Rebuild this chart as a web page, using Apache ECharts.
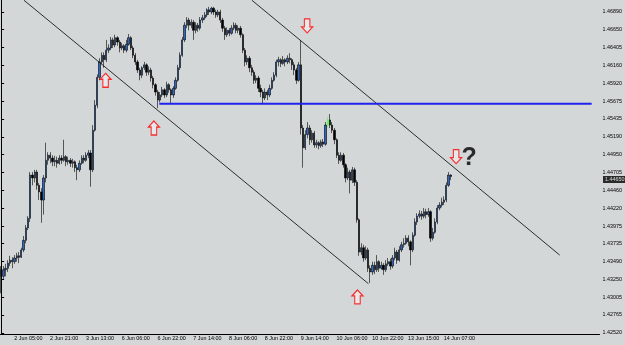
<!DOCTYPE html>
<html>
<head>
<meta charset="utf-8">
<title>H1 channel</title>
<script src="https://cdn.jsdelivr.net/npm/echarts@6/dist/echarts.min.js"></script>
<style>
  html, body { margin: 0; padding: 0; background: #d3d7d8; }
  #chart { width: 625px; height: 345px; }
</style>
</head>
<body>
<div id="chart"></div>
<script>
// right price scale labels
const yLabels = ['1.46890', '1.46650', '1.46405', '1.46160', '1.45920', '1.45675', '1.45435',
  '1.45190', '1.44950', '1.44705', '1.44460', '1.44220', '1.43975', '1.43735', '1.43490',
  '1.43250', '1.43005', '1.42765', '1.42520'];

// time labels, one every 16 bars starting at bar 5
const xLabels = ['2 Jun 05:00', '2 Jun 21:00', '3 Jun 13:00', '6 Jun 06:00', '6 Jun 22:00',
  '7 Jun 14:00', '8 Jun 06:00', '8 Jun 22:00', '9 Jun 14:00', '10 Jun 06:00', '10 Jun 22:00',
  '13 Jun 15:00', '14 Jun 07:00'];
const firstLabelBar = 5;
const labelStep = 16;
const slotCount = 268;   // visible bar slots incl. empty space on the right

// hourly bars: [open, close, low, high]
const candles = [
  [1.4338, 1.4329, 1.4306, 1.4343], [1.4329, 1.4338, 1.4324, 1.4343], [1.4338, 1.4340, 1.4329, 1.4346],
  [1.4340, 1.4347, 1.4335, 1.4351], [1.4347, 1.4351, 1.4343, 1.4357], [1.4351, 1.4349, 1.4340, 1.4355],
  [1.4349, 1.4354, 1.4346, 1.4358], [1.4354, 1.4357, 1.4349, 1.4361], [1.4357, 1.4355, 1.4347, 1.4362],
  [1.4355, 1.4365, 1.4354, 1.4368], [1.4365, 1.4378, 1.4362, 1.4384], [1.4378, 1.4395, 1.4374, 1.4399],
  [1.4395, 1.4408, 1.4392, 1.4411], [1.4408, 1.4467, 1.4403, 1.4471], [1.4467, 1.4463, 1.4453, 1.4471],
  [1.4463, 1.4471, 1.4457, 1.4474], [1.4471, 1.4453, 1.4447, 1.4474], [1.4453, 1.4444, 1.4433, 1.4456],
  [1.4444, 1.4433, 1.4402, 1.4449], [1.4433, 1.4463, 1.4413, 1.4467], [1.4463, 1.4487, 1.4457, 1.4511],
  [1.4487, 1.4494, 1.4481, 1.4498], [1.4494, 1.4490, 1.4483, 1.4498], [1.4490, 1.4485, 1.4479, 1.4494],
  [1.4485, 1.4487, 1.4479, 1.4493], [1.4487, 1.4483, 1.4477, 1.4492], [1.4483, 1.4490, 1.4481, 1.4494],
  [1.4490, 1.4487, 1.4482, 1.4494], [1.4487, 1.4492, 1.4485, 1.4515], [1.4492, 1.4485, 1.4479, 1.4494],
  [1.4485, 1.4487, 1.4481, 1.4492], [1.4487, 1.4483, 1.4478, 1.4490], [1.4483, 1.4485, 1.4477, 1.4489],
  [1.4485, 1.4477, 1.4471, 1.4487], [1.4477, 1.4474, 1.4460, 1.4481], [1.4474, 1.4483, 1.4471, 1.4487],
  [1.4483, 1.4490, 1.4481, 1.4494], [1.4490, 1.4487, 1.4483, 1.4494], [1.4487, 1.4494, 1.4485, 1.4498],
  [1.4494, 1.4497, 1.4490, 1.4501], [1.4497, 1.4474, 1.4451, 1.4501], [1.4474, 1.4528, 1.4471, 1.4535],
  [1.4528, 1.4562, 1.4526, 1.4569], [1.4562, 1.4600, 1.4558, 1.4604], [1.4600, 1.4621, 1.4596, 1.4626],
  [1.4621, 1.4630, 1.4618, 1.4634], [1.4630, 1.4624, 1.4613, 1.4634], [1.4624, 1.4637, 1.4621, 1.4651],
  [1.4637, 1.4640, 1.4633, 1.4645], [1.4640, 1.4651, 1.4637, 1.4655], [1.4651, 1.4644, 1.4640, 1.4654],
  [1.4644, 1.4654, 1.4641, 1.4658], [1.4654, 1.4648, 1.4643, 1.4656], [1.4648, 1.4640, 1.4634, 1.4651],
  [1.4640, 1.4643, 1.4637, 1.4647], [1.4643, 1.4637, 1.4633, 1.4645], [1.4637, 1.4645, 1.4634, 1.4651],
  [1.4645, 1.4654, 1.4643, 1.4659], [1.4654, 1.4640, 1.4637, 1.4656], [1.4640, 1.4630, 1.4626, 1.4643],
  [1.4630, 1.4621, 1.4617, 1.4633], [1.4621, 1.4610, 1.4606, 1.4624], [1.4610, 1.4603, 1.4596, 1.4613],
  [1.4603, 1.4613, 1.4599, 1.4615], [1.4613, 1.4617, 1.4610, 1.4621], [1.4617, 1.4607, 1.4602, 1.4619],
  [1.4607, 1.4610, 1.4603, 1.4615], [1.4610, 1.4599, 1.4594, 1.4613], [1.4599, 1.4590, 1.4585, 1.4602],
  [1.4590, 1.4580, 1.4575, 1.4592], [1.4580, 1.4569, 1.4558, 1.4583], [1.4569, 1.4576, 1.4566, 1.4580],
  [1.4576, 1.4583, 1.4573, 1.4587], [1.4583, 1.4576, 1.4572, 1.4585], [1.4576, 1.4590, 1.4573, 1.4594],
  [1.4590, 1.4583, 1.4579, 1.4592], [1.4583, 1.4576, 1.4565, 1.4585], [1.4576, 1.4585, 1.4572, 1.4588],
  [1.4585, 1.4596, 1.4583, 1.4600], [1.4596, 1.4613, 1.4594, 1.4617], [1.4613, 1.4630, 1.4610, 1.4634],
  [1.4630, 1.4651, 1.4628, 1.4655], [1.4651, 1.4671, 1.4648, 1.4675], [1.4671, 1.4678, 1.4667, 1.4682],
  [1.4678, 1.4671, 1.4664, 1.4681], [1.4671, 1.4675, 1.4667, 1.4679], [1.4675, 1.4664, 1.4651, 1.4678],
  [1.4664, 1.4671, 1.4660, 1.4675], [1.4671, 1.4667, 1.4662, 1.4674], [1.4667, 1.4678, 1.4664, 1.4682],
  [1.4678, 1.4681, 1.4674, 1.4685], [1.4681, 1.4685, 1.4678, 1.4689], [1.4685, 1.4692, 1.4682, 1.4694],
  [1.4692, 1.4689, 1.4685, 1.4696], [1.4689, 1.4694, 1.4686, 1.4696], [1.4694, 1.4689, 1.4685, 1.4696],
  [1.4689, 1.4685, 1.4681, 1.4692], [1.4685, 1.4689, 1.4682, 1.4692], [1.4689, 1.4678, 1.4674, 1.4692],
  [1.4678, 1.4667, 1.4662, 1.4681], [1.4667, 1.4658, 1.4651, 1.4670], [1.4658, 1.4664, 1.4655, 1.4668],
  [1.4664, 1.4660, 1.4656, 1.4667], [1.4660, 1.4667, 1.4658, 1.4671], [1.4667, 1.4671, 1.4664, 1.4675],
  [1.4671, 1.4664, 1.4660, 1.4674], [1.4664, 1.4667, 1.4660, 1.4671], [1.4667, 1.4658, 1.4654, 1.4670],
  [1.4658, 1.4637, 1.4633, 1.4660], [1.4637, 1.4621, 1.4615, 1.4640], [1.4621, 1.4626, 1.4617, 1.4630],
  [1.4626, 1.4613, 1.4607, 1.4629], [1.4613, 1.4607, 1.4602, 1.4617], [1.4607, 1.4596, 1.4591, 1.4610],
  [1.4596, 1.4599, 1.4592, 1.4603], [1.4599, 1.4585, 1.4580, 1.4602], [1.4585, 1.4580, 1.4573, 1.4590],
  [1.4580, 1.4572, 1.4565, 1.4583], [1.4572, 1.4580, 1.4569, 1.4585], [1.4580, 1.4576, 1.4569, 1.4583],
  [1.4576, 1.4585, 1.4573, 1.4590], [1.4585, 1.4596, 1.4583, 1.4600], [1.4596, 1.4603, 1.4594, 1.4607],
  [1.4603, 1.4621, 1.4600, 1.4624], [1.4621, 1.4624, 1.4615, 1.4628], [1.4624, 1.4619, 1.4614, 1.4626],
  [1.4619, 1.4624, 1.4617, 1.4629], [1.4624, 1.4621, 1.4615, 1.4626], [1.4621, 1.4626, 1.4618, 1.4630],
  [1.4626, 1.4624, 1.4619, 1.4633], [1.4624, 1.4617, 1.4610, 1.4626], [1.4617, 1.4610, 1.4603, 1.4621],
  [1.4610, 1.4596, 1.4591, 1.4613], [1.4596, 1.4617, 1.4594, 1.4621], [1.4617, 1.4531, 1.4522, 1.4651],
  [1.4531, 1.4504, 1.4477, 1.4535], [1.4504, 1.4522, 1.4501, 1.4528], [1.4522, 1.4531, 1.4517, 1.4539],
  [1.4531, 1.4515, 1.4508, 1.4535], [1.4515, 1.4524, 1.4511, 1.4528], [1.4524, 1.4508, 1.4504, 1.4527],
  [1.4508, 1.4511, 1.4504, 1.4515], [1.4511, 1.4507, 1.4502, 1.4513], [1.4507, 1.4512, 1.4504, 1.4515],
  [1.4512, 1.4509, 1.4505, 1.4516], [1.4509, 1.4535, 1.4507, 1.4539], [1.4535, 1.4542, 1.4532, 1.4546],
  [1.4542, 1.4535, 1.4531, 1.4550], [1.4535, 1.4528, 1.4524, 1.4539], [1.4528, 1.4515, 1.4509, 1.4531],
  [1.4515, 1.4494, 1.4490, 1.4517], [1.4494, 1.4487, 1.4482, 1.4498], [1.4487, 1.4494, 1.4485, 1.4498],
  [1.4494, 1.4481, 1.4477, 1.4497], [1.4481, 1.4463, 1.4457, 1.4483], [1.4463, 1.4471, 1.4460, 1.4477],
  [1.4471, 1.4460, 1.4442, 1.4474], [1.4460, 1.4474, 1.4456, 1.4478], [1.4474, 1.4457, 1.4452, 1.4477],
  [1.4457, 1.4406, 1.4402, 1.4460], [1.4406, 1.4362, 1.4357, 1.4408], [1.4362, 1.4368, 1.4358, 1.4374],
  [1.4368, 1.4354, 1.4349, 1.4372], [1.4354, 1.4365, 1.4351, 1.4370], [1.4365, 1.4340, 1.4335, 1.4368],
  [1.4340, 1.4335, 1.4320, 1.4344], [1.4335, 1.4344, 1.4331, 1.4349], [1.4344, 1.4338, 1.4332, 1.4349],
  [1.4338, 1.4349, 1.4335, 1.4358], [1.4349, 1.4340, 1.4335, 1.4351], [1.4340, 1.4344, 1.4338, 1.4349],
  [1.4344, 1.4338, 1.4331, 1.4347], [1.4338, 1.4346, 1.4335, 1.4351], [1.4346, 1.4349, 1.4343, 1.4354],
  [1.4349, 1.4343, 1.4338, 1.4353], [1.4343, 1.4354, 1.4340, 1.4358], [1.4354, 1.4362, 1.4351, 1.4368],
  [1.4362, 1.4351, 1.4346, 1.4365], [1.4351, 1.4365, 1.4349, 1.4370], [1.4365, 1.4372, 1.4362, 1.4376],
  [1.4372, 1.4374, 1.4368, 1.4381], [1.4374, 1.4381, 1.4372, 1.4385], [1.4381, 1.4376, 1.4370, 1.4385],
  [1.4376, 1.4365, 1.4344, 1.4378], [1.4365, 1.4385, 1.4362, 1.4389], [1.4385, 1.4403, 1.4383, 1.4408],
  [1.4403, 1.4411, 1.4399, 1.4415], [1.4411, 1.4414, 1.4408, 1.4419], [1.4414, 1.4411, 1.4406, 1.4418],
  [1.4411, 1.4417, 1.4408, 1.4422], [1.4417, 1.4413, 1.4408, 1.4421], [1.4413, 1.4417, 1.4410, 1.4422],
  [1.4417, 1.4381, 1.4376, 1.4419], [1.4381, 1.4389, 1.4378, 1.4395], [1.4389, 1.4403, 1.4387, 1.4408],
  [1.4403, 1.4422, 1.4400, 1.4426], [1.4422, 1.4426, 1.4419, 1.4430], [1.4426, 1.4430, 1.4423, 1.4436],
  [1.4430, 1.4433, 1.4426, 1.4438], [1.4433, 1.4453, 1.4430, 1.4457], [1.4453, 1.4467, 1.4451, 1.4471],
  [1.4467, 1.4465, 1.4460, 1.4468]
];
const greenBar = 146;

// drawn objects, in [bar index, price]
const lowerChannel = [[10.2, 1.4705], [164.2, 1.4319]];
const upperChannel = [[112.1, 1.4705], [249.7, 1.4358]];
const supportLevel = [[70.7, 1.4564], [264.0, 1.4564]];
const upArrows = [[46.7, 1.4596], [68.3, 1.4531], [159.3, 1.4301]];
const downArrows = [[136.8, 1.4670], [203.4, 1.4492]];
const questionMark = [[209.2, 1.4490]];

const categories = Array.from({ length: slotCount }, (_, i) => i);
const yTicks = yLabels.map(Number);
const lastClose = candles[candles.length - 1][1];

const isLabelBar = (i) => i >= firstLabelBar && (i - firstLabelBar) % labelStep === 0 &&
  (i - firstLabelBar) / labelStep < xLabels.length;

const upPath = 'path://M6,0 L12,6 L9,6 L9,14 L3,14 L3,6 L0,6 Z';
const downPath = 'path://M3,0 L9,0 L9,8 L12,8 L6,14 L0,8 L3,8 Z';
const arrowStyle = { color: 'rgba(255,255,255,0.55)', borderColor: '#ff0000', borderWidth: 1.2 };
const axisFont = { fontFamily: 'Liberation Sans', fontSize: 5.4, color: '#000' };

const chart = echarts.init(document.getElementById('chart'));

chart.setOption({
  animation: false,
  backgroundColor: '#d3d7d8',
  grid: { left: 0, top: 0, right: 23, bottom: 11 },
  xAxis: [
    {
      type: 'category',
      data: categories,
      boundaryGap: true,
      axisLine: { lineStyle: { color: '#000', width: 1 } },
      axisTick: { interval: (i) => isLabelBar(i), alignWithLabel: true, length: 3, lineStyle: { color: '#000' } },
      axisLabel: {
        ...axisFont,
        interval: (i) => isLabelBar(i),
        formatter: (v, i) => xLabels[(i - firstLabelBar) / labelStep],
        align: 'left',
        padding: [0, 0, 0, 2],
        margin: 2
      },
      splitLine: { show: false }
    },
    { type: 'value', min: -0.5, max: slotCount - 0.5, show: false }
  ],
  yAxis: {
    type: 'value',
    position: 'right',
    min: 1.42505,
    max: 1.47053,
    axisLine: { show: true, lineStyle: { color: '#000', width: 1 } },
    axisTick: { show: true, customValues: yTicks, length: 3, lineStyle: { color: '#000' } },
    axisLabel: { ...axisFont, customValues: yTicks, formatter: (v) => v.toFixed(5), margin: 3 },
    splitLine: { show: false }
  },
  series: [
    {
      type: 'candlestick',
      xAxisIndex: 0,
      barWidth: 1.8,
      itemStyle: {
        color: '#2f66c4',
        color0: '#000000',
        borderColor: '#000000',
        borderColor0: '#000000',
        borderWidth: 0.6
      },
      data: candles.map((c, i) => i === greenBar
        ? { value: c, itemStyle: { color: '#4cff3c', color0: '#4cff3c', borderColor: '#4cff3c', borderColor0: '#4cff3c' } }
        : c)
    },
    {
      type: 'line', xAxisIndex: 1, data: lowerChannel, symbol: 'none',
      lineStyle: { color: '#1a1a1a', width: 0.9 }
    },
    {
      type: 'line', xAxisIndex: 1, data: upperChannel, symbol: 'none',
      lineStyle: { color: '#1a1a1a', width: 0.9 }
    },
    {
      type: 'line', xAxisIndex: 1, data: supportLevel, symbol: 'none',
      lineStyle: { color: '#2222ee', width: 2 }
    },
    {
      type: 'scatter', xAxisIndex: 1, data: upArrows, symbol: upPath,
      symbolSize: [11, 14], itemStyle: arrowStyle
    },
    {
      type: 'scatter', xAxisIndex: 1, data: downArrows, symbol: downPath,
      symbolSize: [11, 14], itemStyle: arrowStyle
    },
    {
      type: 'scatter', xAxisIndex: 1, data: questionMark, symbolSize: 1,
      itemStyle: { color: 'transparent' },
      label: {
        show: true, position: 'inside', formatter: '?',
        fontFamily: 'Liberation Sans', fontWeight: 'bold', fontSize: 25, color: '#000'
      }
    },
    {
      // last price tag on the price scale
      type: 'scatter', xAxisIndex: 1, data: [[slotCount - 0.5, lastClose]], symbolSize: 1,
      clip: false,
      itemStyle: { color: 'transparent' },
      label: {
        show: true, position: 'right', distance: 3, offset: [0, 3],
        formatter: lastClose.toFixed(5),
        backgroundColor: '#000', color: '#fff',
        fontFamily: 'Liberation Sans', fontSize: 5.4,
        padding: [1, 3, 1, 2]
      },
      z: 10
    }
  ]
});
</script>
</body>
</html>
